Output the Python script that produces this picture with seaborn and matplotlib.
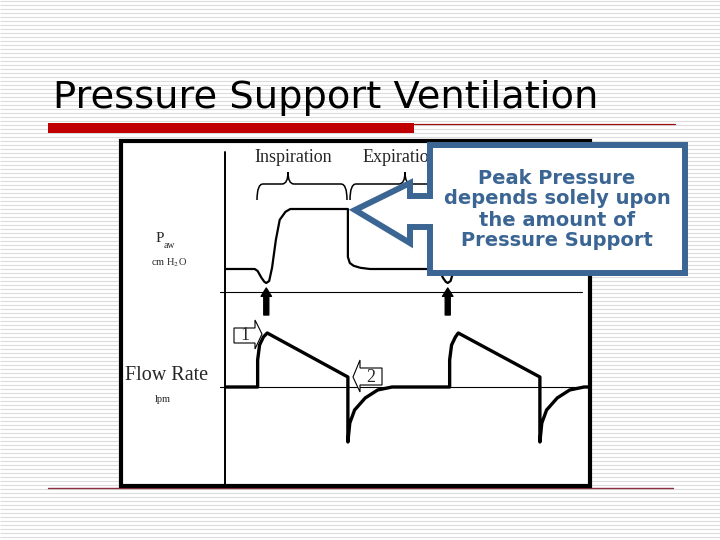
import numpy as np
import matplotlib.pyplot as plt
import seaborn as sns
from matplotlib.patches import Rectangle, Polygon, PathPatch
from matplotlib.path import Path

sns.set_style("white")
plt.rcParams['font.family'] = ['DejaVu Sans']
plt.rcParams['mathtext.fontset'] = 'stix'

title = "Pressure Support Ventilation"
note = ["Peak Pressure", "depends solely upon", "the amount of", "Pressure Support"]

# airway pressure (cmH2O) against time (s)
paw_t = [0.00, 0.31, 0.34, 0.38, 0.41, 0.43, 0.46, 0.49, 0.53, 0.57, 0.63, 0.68,
         1.28, 1.28, 1.30, 1.34, 1.41, 1.51,
         2.21, 2.24, 2.27, 2.30, 2.32, 2.35, 2.39, 2.43, 2.47, 2.52, 2.57,
         3.18, 3.18, 3.20, 3.24, 3.31, 3.41, 3.80]
paw_p = [5, 5, 4.5, 2.8, 1.8, 1.5, 2.0, 5.3, 12.3, 17.3, 19.3, 20,
         20, 8, 6.5, 5.8, 5.3, 5,
         5, 4.5, 2.8, 1.8, 1.5, 2.0, 5.3, 12.3, 17.3, 19.3, 20,
         20, 8, 6.5, 5.8, 5.3, 5, 5]

# flow (lpm) against time (s)
flow_t = [0.00, 0.34, 0.34, 0.36, 0.40, 0.44, 1.28, 1.28, 1.30, 1.35, 1.46, 1.59, 1.74,
          2.34, 2.34, 2.36, 2.40, 2.43, 3.28, 3.28, 3.30, 3.35, 3.46, 3.59, 3.74, 3.80]
flow_v = [0, 0, 27, 42, 50, 54, 10, -55, -36, -23, -11, -3, 0,
          0, 27, 42, 50, 54, 10, -55, -36, -23, -11, -3, 0, 0]

trigger_t = [0.43, 2.32]

BLUE = '#3B6593'
SERIF = 'Liberation Serif'

fig = plt.figure(figsize=(7.2, 5.4), dpi=100)

# slide background in pixel coordinates
bg = fig.add_axes([0, 0, 1, 1], zorder=0)
bg.set_xlim(0, 720)
bg.set_ylim(540, 0)
bg.axis('off')
bg.hlines(np.arange(0.5, 540, 4), 0, 720, color='#DCDCDC', lw=0.8, zorder=0)

t = bg.text(53, 108, title, fontsize=30, va='baseline', ha='left', color='black', zorder=3)
fig.canvas.draw()
t.set_fontsize(30 * 544 / t.get_window_extent().width)

bg.add_patch(Rectangle((48, 123), 366, 10, color='#C00000', lw=0, zorder=3))
bg.plot([414, 675], [123.8, 123.8], color='#A01010', lw=0.9, zorder=3)
bg.plot([48, 673], [487.5, 487.5], color='#8B3040', lw=1.0, zorder=1)

# diagram frame
bg.add_patch(Rectangle((120.5, 141), 469, 344.5, fc='white', ec='black', lw=3, zorder=2))
bg.plot([225, 225], [152, 486], color='black', lw=1.4, zorder=3)
bg.plot([220, 582], [292, 292], color='black', lw=0.8, zorder=3)
bg.plot([220, 589], [387, 387], color='black', lw=0.8, zorder=3)


def brace(ax, x0, x1, xm, y_line=184, y_tip=172, y_end=200):
    verts = [(x0, y_end), (x0, y_line), (x0 + 6, y_line),
             (xm - 6, y_line), (xm, y_line), (xm, y_tip),
             (xm, y_line), (xm + 6, y_line),
             (x1 - 6, y_line), (x1, y_line), (x1, y_end)]
    codes = [Path.MOVETO, Path.CURVE3, Path.CURVE3,
             Path.LINETO, Path.CURVE3, Path.CURVE3,
             Path.CURVE3, Path.CURVE3,
             Path.LINETO, Path.CURVE3, Path.CURVE3]
    ax.add_patch(PathPatch(Path(verts, codes), fc='none', ec='black', lw=1.1, zorder=3))


brace(bg, 257, 347, 288)
brace(bg, 350, 462, 405)

bg.text(293, 157, 'Inspiration', family=SERIF, fontsize=13, ha='center', va='center', zorder=3)
bg.text(363, 157, 'Expiration', family=SERIF, fontsize=13, ha='left', va='center', zorder=3)
bg.text(156, 242, 'P', family=SERIF, fontsize=11, va='baseline', zorder=3)
bg.text(164, 248, 'aw', family=SERIF, fontsize=7, va='baseline', zorder=3)
bg.text(169, 263, r'cm H$_2$O', family=SERIF, fontsize=7.5, ha='center', va='center', zorder=3)
bg.text(167, 376, 'Flow Rate', family=SERIF, fontsize=14.5, ha='center', va='center', zorder=3)
bg.text(163, 399, 'lpm', family=SERIF, fontsize=7.5, ha='center', va='center', zorder=3)

# waveform panels
ax_p = fig.add_axes([225 / 720, 1 - 292 / 540, 365 / 720, 140 / 540], zorder=1)
sns.lineplot(x=paw_t, y=paw_p, ax=ax_p, color='black', lw=1.6, sort=False, estimator=None)
ax_p.set_xlim(0, 3.802)
ax_p.set_ylim(-0.75, 34.25)
ax_p.axis('off')

ax_f = fig.add_axes([225 / 720, 1 - 486 / 540, 365 / 720, 194 / 540], zorder=1)
sns.lineplot(x=flow_t, y=flow_v, ax=ax_f, color='black', lw=2.4, sort=False, estimator=None)
ax_f.set_xlim(0, 3.802)
ax_f.set_ylim(-99, 95)
ax_f.axis('off')

for tt in trigger_t:
    ax_f.annotate('', xy=(tt, 99), xytext=(tt, 72), annotation_clip=False,
                  arrowprops=dict(width=3.6, headwidth=7.5, headlength=6,
                                  fc='black', ec='black', shrink=0))

# callouts on top
top = fig.add_axes([0, 0, 1, 1], zorder=2)
top.set_xlim(0, 720)
top.set_ylim(540, 0)
top.axis('off')

tag1 = [(234, 328), (255, 328), (255, 320), (262, 334), (255, 349), (255, 343), (234, 343)]
tag2 = [(382, 368), (360, 368), (360, 360), (353, 377), (360, 392), (360, 385), (382, 385)]
top.add_patch(Polygon(tag1, closed=True, fc='white', ec='black', lw=0.8))
top.add_patch(Polygon(tag2, closed=True, fc='white', ec='black', lw=0.8))
top.text(245, 336, '1', family=SERIF, fontsize=13, ha='center', va='center')
top.text(371, 377, '2', family=SERIF, fontsize=13, ha='center', va='center')

box = [(355, 210), (410, 183), (410, 196), (430, 196), (430, 145), (685, 145),
       (685, 273), (430, 273), (430, 227), (410, 227), (410, 243)]
top.add_patch(Polygon(box, closed=True, fc='white', ec=BLUE, lw=4.3, joinstyle='miter'))
for i, line in enumerate(note):
    top.text(557, 178 + 21 * i, line, fontsize=14, fontweight='bold', color=BLUE,
             ha='center', va='center')

fig.savefig('out.png', dpi=100)
